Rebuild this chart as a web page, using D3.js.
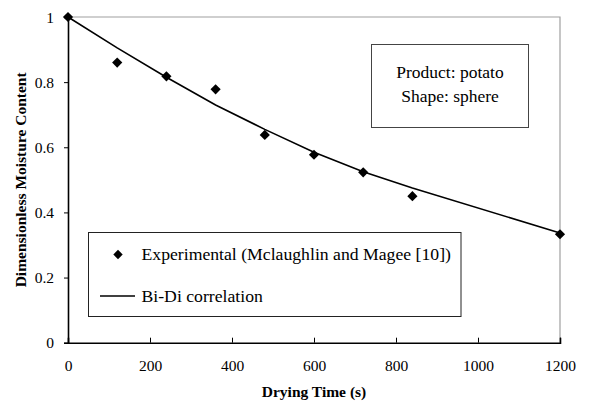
<!DOCTYPE html>
<html><head><meta charset="utf-8">
<script src="https://cdn.jsdelivr.net/npm/d3@7"></script>
<style>html,body{margin:0;padding:0;background:#fff;}svg{display:block;}</style>
</head><body>
<svg id="c" width="589" height="402"></svg>
<script>
const expTime = [0, 120, 240, 360, 480, 600, 720, 840, 1200];
const expMoisture = [1.0, 0.86, 0.818, 0.778, 0.638, 0.577, 0.523, 0.45, 0.333];
const corrTime = [0, 120, 240, 360, 480, 600, 720, 840, 1200];
const corrMoisture = [1.0, 0.905, 0.815, 0.73, 0.655, 0.585, 0.525, 0.475, 0.337];
const xTicks = [0, 200, 400, 600, 800, 1000, 1200];
const yTicks = [0, 0.2, 0.4, 0.6, 0.8, 1];
const legendLabels = ["Experimental (Mclaughlin and Magee [10])", "Bi-Di correlation"];
const noteLines = ["Product: potato", "Shape: sphere"];
const xTitle = "Drying Time (s)";
const yTitle = "Dimensionless Moisture Content";

const svg = d3.select("#c");
const font = "Liberation Serif";
const L = 68, R = 560, T = 17, B = 342.7;
const x = d3.scaleLinear().domain([0, 1200]).range([L, R]);
const y = d3.scaleLinear().domain([0, 1]).range([B, T]);

// frame top/right
svg.append("path").attr("d", `M${L},${T}H${R}V${B}`).attr("fill", "none").attr("stroke", "#a0a0a0").attr("stroke-width", 1.2);

// x axis
const xa = svg.append("g").attr("transform", `translate(0,${B})`)
  .call(d3.axisBottom(x).tickValues(xTicks).tickSize(-5).tickPadding(22).tickFormat(d3.format("d")));
xa.select(".domain").attr("stroke", "#000").attr("stroke-width", 1.6);
xa.selectAll(".tick line").attr("stroke", "#000").attr("stroke-width", 1);
xa.selectAll("text").style("font-family", font).style("font-size", "15.5px").attr("fill", "#000").attr("dy", 0).attr("y", 28.5);

// y axis
const ya = svg.append("g").attr("transform", `translate(${L},0)`)
  .call(d3.axisLeft(y).tickValues(yTicks).tickSize(4).tickPadding(10).tickFormat(d => d === 0 || d === 1 ? d3.format("d")(d) : d3.format(".1f")(d)));
ya.select(".domain").attr("stroke", "#000").attr("stroke-width", 1.6);
ya.selectAll(".tick line").attr("stroke", "#000").attr("stroke-width", 1);
ya.selectAll("text").style("font-family", font).style("font-size", "15.5px").attr("fill", "#000").attr("dy", "0.34em");

// titles
svg.append("text").attr("x", (L + R) / 2).attr("y", 397).attr("text-anchor", "middle")
  .style("font-family", font).style("font-weight", "bold").style("font-size", "15.5px").text(xTitle);
svg.append("text").attr("transform", `translate(26,${(T + B) / 2}) rotate(-90)`).attr("text-anchor", "middle")
  .style("font-family", font).style("font-weight", "bold").style("font-size", "15.5px").text(yTitle);

// correlation line
const line = d3.line().x((d, i) => x(corrTime[i])).y(d => y(d));
svg.append("path").datum(corrMoisture).attr("d", line).attr("fill", "none").attr("stroke", "#000").attr("stroke-width", 1.6);

// diamonds
const diamond = d3.symbol().type(d3.symbolSquare).size(52);
svg.selectAll(".pt").data(expMoisture).join("path")
  .attr("d", diamond)
  .attr("transform", (d, i) => `translate(${x(expTime[i])},${y(d)}) rotate(45)`)
  .attr("fill", "#000");

// legend box
const lg = svg.append("g");
lg.append("rect").attr("x", 88.5).attr("y", 232.5).attr("width", 372.5).attr("height", 84)
  .attr("fill", "#fff").attr("stroke", "#222").attr("stroke-width", 1);
lg.append("path").attr("d", d3.symbol().type(d3.symbolSquare).size(44)()).attr("transform", "translate(118,254.5) rotate(45)").attr("fill", "#000");
lg.append("line").attr("x1", 100).attr("x2", 135).attr("y1", 296).attr("y2", 296).attr("stroke", "#000").attr("stroke-width", 1.6);
lg.append("text").attr("x", 141.5).attr("y", 259.5).style("font-family", font).style("font-size", "17.7px").text(legendLabels[0]);
lg.append("text").attr("x", 141.5).attr("y", 301.5).style("font-family", font).style("font-size", "17.7px").text(legendLabels[1]);

// note box
const nb = svg.append("g");
nb.append("rect").attr("x", 371.5).attr("y", 44.5).attr("width", 157).attr("height", 83)
  .attr("fill", "#fff").attr("stroke", "#444").attr("stroke-width", 1);
noteLines.forEach((t, i) => nb.append("text").attr("x", 450).attr("y", 77.5 + i * 24).attr("text-anchor", "middle")
  .style("font-family", font).style("font-size", "17.5px").text(t));
</script>
</body></html>
